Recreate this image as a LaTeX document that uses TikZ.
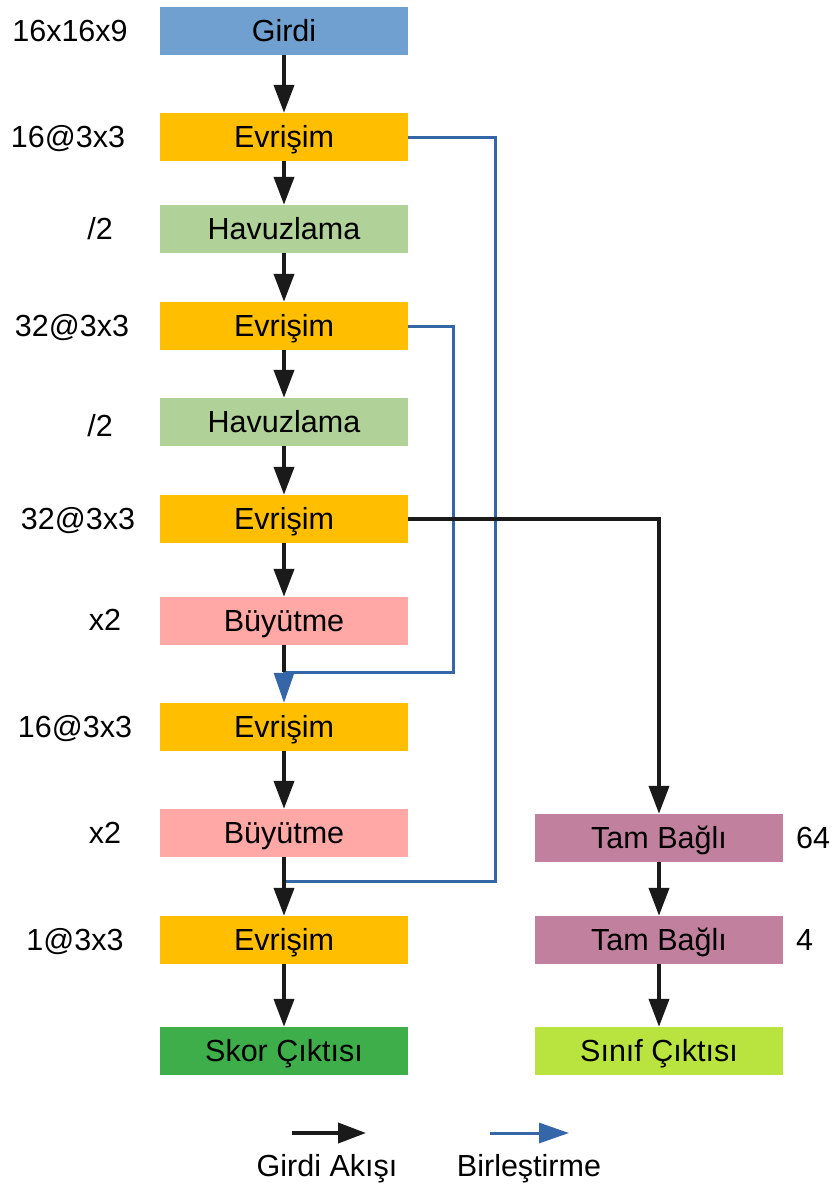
\documentclass[tikz,border=0pt]{standalone}
\usepackage{fontspec}
\setmainfont{Liberation Sans}
\usetikzlibrary{arrows.meta}
\definecolor{inblue}{HTML}{6FA0D0}
\definecolor{convorange}{HTML}{FFBF00}
\definecolor{poolgreen}{HTML}{B0D198}
\definecolor{uppink}{HTML}{FFA8A6}
\definecolor{fcmauve}{HTML}{C0809E}
\definecolor{scoregreen}{HTML}{3DAE49}
\definecolor{classlime}{HTML}{B9E33F}
\definecolor{mergeblue}{HTML}{3466A8}
\definecolor{flowblack}{HTML}{1A1A1A}
\tikzset{
  txt/.style={font=\fontsize{30.5}{36}\selectfont, text height=21.8pt, text depth=0pt},
  block/.style={txt, minimum width=248pt, minimum height=48pt, inner sep=0pt},
  lbl/.style={txt, inner sep=0pt},
  flow/.style={draw=flowblack, line width=4pt,
    -{Triangle[length=28pt,width=20pt,fill=flowblack]}},
  flowline/.style={draw=flowblack, line width=4pt},
  merge/.style={draw=mergeblue, line width=3pt},
  mergearrow/.style={draw=mergeblue, line width=3pt,
    -{Triangle[length=30pt,width=20pt,fill=mergeblue]}},
}
\begin{document}
\begin{tikzpicture}[x=1pt,y=-1pt]
\useasboundingbox (0,0) rectangle (831,1187);

% main column
\node[block, fill=inblue]     (in)   at (284,30.5) {Girdi};
\node[block, fill=convorange] (c1)   at (284,137)  {Evrişim};
\node[block, fill=poolgreen]  (p1)   at (284,229)  {Havuzlama};
\node[block, fill=convorange] (c2)   at (284,326)  {Evrişim};
\node[block, fill=poolgreen]  (p2)   at (284,422)  {Havuzlama};
\node[block, fill=convorange] (c3)   at (284,519)  {Evrişim};
\node[block, fill=uppink]     (u1)   at (284,621)  {Büyütme};
\node[block, fill=convorange] (c4)   at (284,727)  {Evrişim};
\node[block, fill=uppink]     (u2)   at (284,833)  {Büyütme};
\node[block, fill=convorange] (c5)   at (284,940)  {Evrişim};
\node[block, fill=scoregreen] (out1) at (284,1051) {Skor Çıktısı};

% classification branch
\node[block, fill=fcmauve]    (f1)   at (659,838)  {Tam Bağlı};
\node[block, fill=fcmauve]    (f2)   at (659,940)  {Tam Bağlı};
\node[block, fill=classlime]  (out2) at (659,1051) {Sınıf Çıktısı};

% layer parameters
\node[lbl] (l0) at (70,30.5) {16x16x9};
\node[lbl] (l1) at (68,137)  {16@3x3};
\node[lbl] (l2) at (100,229) {/2};
\node[lbl] (l3) at (72,326)  {32@3x3};
\node[lbl] (l4) at (100,426) {/2};
\node[lbl] (l5) at (78,519)  {32@3x3};
\node[lbl] (l6) at (105,620) {x2};
\node[lbl] (l7) at (75,727)  {16@3x3};
\node[lbl] (l8) at (105,833) {x2};
\node[lbl] (l9) at (75,940)  {1@3x3};
\node[lbl, anchor=west] (r1) at (796,838) {64};
\node[lbl, anchor=west] (r2) at (796,940) {4};

% skip connections
\coordinate (j1) at (284,881);
\coordinate (j2) at (284,672);
\draw[merge] (c1.east) -- (495,137) |- (j1);
\draw[merge] (c2.east) -- (453,326) |- (j2);
\draw[mergearrow] (j2) -- (c4.north);

% input flow
\draw[flow] (in.south) -- (c1.north);
\draw[flow] (c1.south) -- (p1.north);
\draw[flow] (p1.south) -- (c2.north);
\draw[flow] (c2.south) -- (p2.north);
\draw[flow] (p2.south) -- (c3.north);
\draw[flow] (c3.south) -- (u1.north);
\draw[flowline] (u1.south) -- (j2);
\draw[flow] (c4.south) -- (u2.north);
\draw[flow] (u2.south) -- (c5.north);
\draw[flow] (c5.south) -- (out1.north);
\draw[flow] (c3.east) -| (f1.north);
\draw[flow] (f1.south) -- (f2.north);
\draw[flow] (f2.south) -- (out2.north);

% legend
\coordinate (ka) at (292,1133);
\coordinate (kb) at (366,1133);
\coordinate (kc) at (490,1133);
\coordinate (kd) at (569,1133);
\draw[flow] (ka) -- (kb);
\draw[mergearrow] (kc) -- (kd);
\node[lbl] (k1) at (327,1166) {Girdi Akışı};
\node[lbl] (k2) at (529,1166) {Birleştirme};
\end{tikzpicture}
\end{document}
